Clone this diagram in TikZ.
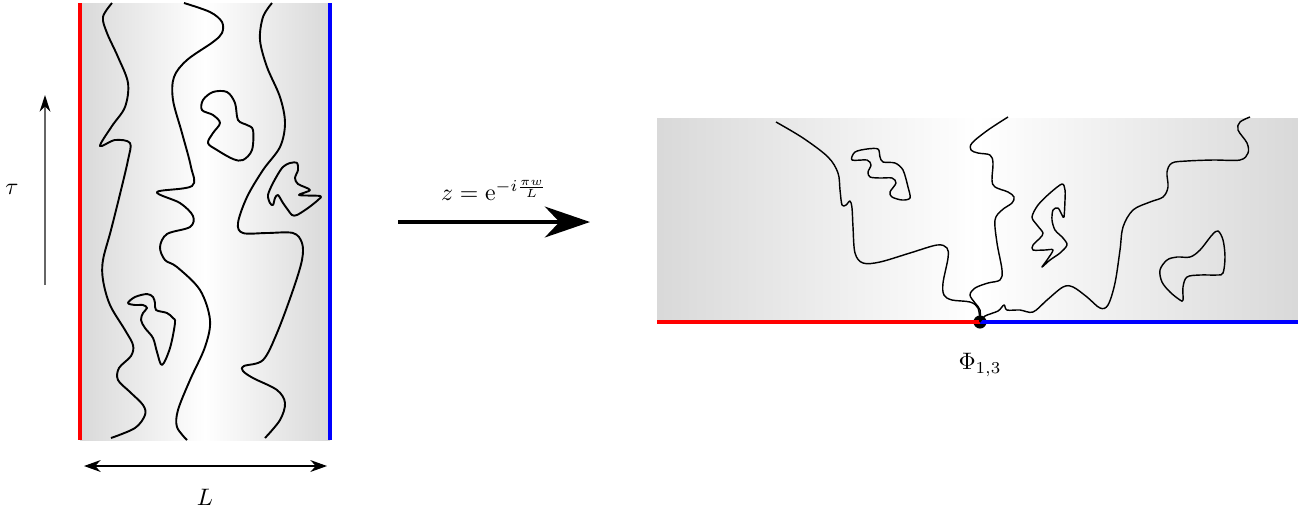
\documentclass[tikz,border=0pt]{standalone}
\usetikzlibrary{arrows.meta,positioning,calc}

\begin{document}
\begin{tikzpicture}[x=0.42pt, y=-0.42pt,
	walk/.style={line width=0.8pt, line join=round},
	hwalk/.style={line width=0.6pt, line join=round},
	fade/.style={left color=black!15, right color=black!15, middle color=white, draw=none},
	lbl/.style={inner sep=1pt}]
	\useasboundingbox (0,0) rectangle (1298,512);

	\shade[fade] (80,3) rectangle (330,440);
	\draw[red, line width=1.3pt] (80,3) -- (80,440);
	\draw[blue, line width=1.3pt] (330,3) -- (330,440);

	\draw[walk] plot[smooth, tension=0.55] coordinates {(112,3) (103,17) (107,33) (118,57) (128,83) (125,107) (112,126) (100,146) (115,140) (130,143) (128,160) (121,190) (111,230) (103,260) (103,280) (110,305) (125,330) (133,345) (131,356) (119,368) (118,380) (130,392) (143,405) (145,415) (135,428) (111,438)};
	\draw[walk] plot[smooth, tension=0.55] coordinates {(184,3) (210,12) (222,22) (222,33) (213,42) (187,60) (174,77) (173,100) (182,133) (191,167) (192,186) (157,192) (180,203) (193,216) (190,227) (167,234) (160,247) (165,260) (177,267) (200,290) (210,320) (205,347) (190,380) (178,410) (177,427) (187,440)};
	\draw[walk] plot[smooth, tension=0.55] coordinates {(272,3) (263,17) (260,40) (267,67) (280,97) (285,123) (280,147) (263,170) (247,197) (238,223) (243,233) (267,233) (293,233) (302,243) (302,260) (293,290) (277,333) (263,360) (244,366) (243,371) (253,378) (277,390) (285,403) (280,420) (265,438)};
	\draw[walk] plot[smooth cycle, tension=0.55] coordinates {(203,100) (213,92) (227,92) (235,103) (238,120) (247,125) (253,130) (252,150) (243,160) (233,159) (217,150) (208,143) (213,133) (220,123) (213,115) (202,110)};
	\draw[walk] plot[smooth cycle, tension=0.5] coordinates {(268,195) (273,183) (282,168) (290,163) (297,163) (298,170) (295,178) (298,184) (310,190) (299,195) (320,196) (318,200) (308,208) (297,215) (292,215) (288,210) (283,203) (278,195) (275,198) (273,205) (270,203)};
	\draw[walk] plot[smooth cycle, tension=0.55] coordinates {(128,303) (135,297) (147,294) (153,297) (155,303) (156,310) (167,313) (173,318) (175,323) (170,348) (162,365) (157,352) (153,338) (145,328) (141,320) (143,313) (147,308) (143,305) (135,305)};

	\coordinate (tbot) at (45,285);
	\coordinate (ttop) at (45,95);
	\draw[black!60, line width=0.7pt, -{Stealth[black, length=7pt, width=4.5pt]}] (tbot) -- (ttop);
	\node[lbl] (tau) at (12,189) {$\tau$};

	\coordinate (lw) at (84,466);
	\coordinate (le) at (327,466);
	\draw[line width=0.5pt, {Stealth[length=7pt, width=5pt]}-{Stealth[length=7pt, width=5pt]}] (lw) -- (le);
	\node[lbl] (width) at (205,497) {$L$};

	\coordinate (mapw) at (398,222);
	\coordinate (mape) at (590,222);
	\draw[line width=1.3pt, -{Stealth[length=19pt, width=13pt]}] (mapw) -- (mape);
	\node[lbl, above=8pt of $(mapw)!0.5!(mape)$] (map) {$z=\mathrm{e}^{-i\frac{\pi w}{L}}$};

	\shade[fade] (657,118) rectangle (1298,322);
	\coordinate (hl) at (657,322);
	\coordinate (hr) at (1298,322);
	\node[circle, fill=black, inner sep=0pt, minimum size=5.5pt] (phi) at (980,322) {};
	\draw[red, line width=1.3pt] (hl) -- (phi.center);
	\draw[blue, line width=1.3pt] (phi.center) -- (hr);

	\draw[hwalk] plot[smooth, tension=0.55] coordinates {(776,122) (803,138) (828,157) (838,173) (840,190) (842,205) (846,205) (850,201) (852,208) (853,227) (855,253) (863,263) (880,262) (910,253) (937,245) (947,248) (948,258) (943,283) (944,295) (952,300) (970,302) (978,308) (980,322)};
	\draw[hwalk] plot[smooth, tension=0.55] coordinates {(1008,117) (988,130) (972,143) (971,150) (978,153) (990,155) (993,163) (992,180) (995,187) (1008,192) (1014,197) (1012,203) (1002,210) (995,220) (997,243) (1002,270) (1000,280) (988,283) (975,288) (970,295) (975,303) (980,310) (980,322)};
	\draw[hwalk] plot[smooth, tension=0.55] coordinates {(980,322) (985,316) (998,311) (1004,305) (1007,310) (1020,310) (1033,312) (1047,300) (1063,287) (1073,287) (1087,297) (1100,308) (1108,305) (1115,283) (1120,250) (1123,227) (1133,210) (1150,202) (1163,197) (1168,187) (1167,172) (1172,163) (1187,161) (1213,160) (1240,160) (1248,153) (1247,143) (1238,130) (1240,122) (1250,117)};
	\draw[hwalk] plot[smooth cycle, tension=0.5] coordinates {(852,160) (855,152) (867,149) (878,149) (880,157) (883,162) (895,163) (903,170) (908,187) (910,198) (902,200) (892,197) (890,192) (896,183) (892,178) (880,178) (870,177) (868,172) (871,165) (867,160)};
	\draw[hwalk] plot[smooth cycle, tension=0.5] coordinates {(1032,217) (1038,205) (1050,193) (1062,184) (1065,190) (1065,200) (1064,217) (1062,215) (1058,208) (1053,210) (1052,220) (1055,230) (1063,238) (1067,245) (1060,253) (1050,260) (1042,267) (1047,260) (1053,250) (1045,250) (1033,250) (1033,245) (1040,238) (1043,233) (1037,225)};
	\draw[hwalk] plot[smooth cycle, tension=0.55] coordinates {(1160,270) (1167,260) (1177,257) (1190,257) (1200,250) (1212,235) (1218,231) (1223,240) (1225,257) (1223,273) (1217,275) (1200,275) (1187,277) (1183,287) (1183,300) (1180,300) (1170,292) (1162,282)};

	\node[lbl, below=9pt of phi] (phil) {$\Phi_{1,3}$};
\end{tikzpicture}
\end{document}
